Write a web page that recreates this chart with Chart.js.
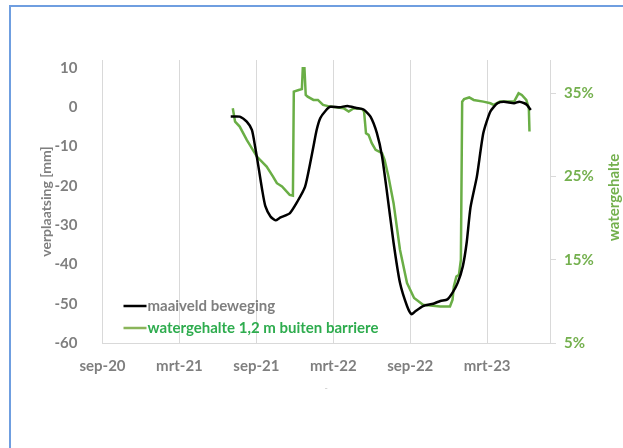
<!DOCTYPE html>
<html>
<head>
<meta charset="utf-8">
<script src="https://cdn.jsdelivr.net/npm/chart.js@4.4.1/dist/chart.umd.min.js"></script>
<style>
  html, body { margin: 0; padding: 0; background: #fff; }
  #wrap { position: relative; width: 623px; height: 448px; overflow: hidden; }
  #frame { position: absolute; left: 9px; top: 5px; width: 700px; height: 500px;
           border: 2px solid #6f9ee0; box-sizing: border-box; }
  canvas { position: absolute; left: 0; top: 0; }
</style>
</head>
<body>
<div id="wrap">
  <div id="frame"></div>
  <canvas id="c" width="623" height="448"></canvas>
</div>
<script>
// Time axis: months counted from 1 Sep 2020
const monthTicks  = [0, 6, 12, 18, 24, 30];
const monthLabels = ['sep-20', 'mrt-21', 'sep-21', 'mrt-22', 'sep-22', 'mrt-23'];
const mmTicks  = [-60, -50, -40, -30, -20, -10, 0, 10];
const pctTicks = [5, 15, 25, 35];

// Ground surface movement (mm)
const movementMonths = [10.0, 10.7, 11.25, 11.65, 11.9, 12.2, 12.45, 12.7, 13.1, 13.5,
  13.85, 14.6, 15.2, 15.8, 16.2, 16.45, 16.7, 16.98, 17.4, 17.76,
  18.5, 19.1, 19.8, 20.36, 20.9, 21.4, 21.8, 22.2, 22.7, 23.2,
  23.75, 24.1, 24.4, 25.0, 25.8, 26.35, 26.9, 27.3, 27.7, 28.1,
  28.4, 28.7, 29.2, 29.7, 30.25, 30.8, 31.3, 32.1, 32.5, 32.9,
  33.1, 33.4];
const movementMm = [-2.4, -2.4, -3.7, -5.8, -10.0, -15.9, -21.0, -25.2, -27.8, -28.8,
  -28.1, -27.0, -24.0, -20.2, -14.2, -10.0, -5.8, -2.8, -0.9, 0.1,
  0.0, 0.3, -0.2, -0.6, -2.4, -6.6, -12.5, -22.0, -34.5, -44.7,
  -50.6, -52.7, -51.9, -50.6, -50.0, -49.3, -48.9, -47.2, -44.7, -40.5,
  -34.5, -25.5, -17.6, -6.6, -1.1, 1.0, 1.4, 1.0, 1.4, 1.0,
  0.6, -0.7];

// Water content 1.2 m outside the barrier (%)
const waterMonths = [10.16, 10.34, 10.7, 11.25, 12.04, 12.8, 13.3, 13.6, 14.0, 14.6,
  14.85, 14.92, 15.3, 15.55, 15.62, 15.75, 15.85, 16.0, 16.45, 16.8,
  17.2, 17.75, 18.8, 19.2, 19.6, 20.25, 20.4, 20.55, 20.75, 21.0,
  21.3, 21.8, 22.0, 22.3, 22.7, 23.2, 23.75, 24.3, 25.0, 26.35,
  27.1, 27.3, 27.4, 27.6, 27.8, 27.95, 28.05, 28.2, 28.6, 28.95,
  29.7, 30.25, 30.5, 31.0, 32.1, 32.45, 32.7, 33.05, 33.25, 33.3];
const waterPct = [33.2, 31.6, 31.0, 29.4, 27.4, 26.2, 25.0, 24.2, 23.8, 22.8,
  22.7, 35.2, 35.4, 35.5, 38.0, 38.0, 34.8, 34.6, 34.2, 34.2,
  33.6, 33.4, 33.2, 32.8, 33.2, 33.1, 32.8, 30.2, 30.0, 29.0,
  28.2, 27.8, 27.0, 25.0, 21.8, 16.2, 12.2, 10.4, 9.6, 9.4,
  9.4, 10.2, 11.8, 13.0, 13.2, 15.0, 34.0, 34.3, 34.5, 34.2,
  34.0, 33.8, 33.6, 34.0, 34.0, 35.0, 34.8, 34.2, 33.2, 30.4];

const FONT = "Lato, 'Open Sans', sans-serif";
const GREY = '#7f7f7f';
const AXIS_GREEN = '#74b04e';
const LINE_GREEN = '#6aae46';
const LEGEND_TEXT = [GREY, '#2eac4e'];
const LEGEND_LINE = ['#000000', '#8ab55a'];

const pairs = (xs, ys) => xs.map((x, i) => ({ x, y: ys[i] }));

// Legend drawn inside the plot, lower left
const insideLegend = {
  id: 'insideLegend',
  afterDatasetsDraw(chart) {
    const { ctx, chartArea } = chart;
    ctx.save();
    ctx.font = 'bold 15px ' + FONT;
    ctx.textBaseline = 'middle';
    ctx.textAlign = 'left';
    chart.data.datasets.forEach((ds, i) => {
      const y = chartArea.bottom - 37 + i * 22;
      const x0 = chartArea.left + 21;
      ctx.strokeStyle = LEGEND_LINE[i];
      ctx.lineWidth = 2.5;
      ctx.beginPath();
      ctx.moveTo(x0, y);
      ctx.lineTo(x0 + 23, y);
      ctx.stroke();
      ctx.fillStyle = LEGEND_TEXT[i];
      ctx.fillText(ds.label, x0 + 24, y);
    });
    ctx.restore();
  }
};

// Secondary axis title, reading bottom to top
const rightTitle = {
  id: 'rightTitle',
  afterDraw(chart) {
    const { ctx, chartArea } = chart;
    ctx.save();
    ctx.translate(614, (chartArea.top + chartArea.bottom) / 2 - 4);
    ctx.rotate(-Math.PI / 2);
    ctx.font = 'bold 15px ' + FONT;
    ctx.fillStyle = AXIS_GREEN;
    ctx.textAlign = 'center';
    ctx.textBaseline = 'middle';
    ctx.fillText('watergehalte', 0, 0);
    ctx.restore();
  }
};

new Chart(document.getElementById('c'), {
  type: 'line',
  data: {
    datasets: [
      {
        label: 'maaiveld beweging',
        data: pairs(movementMonths, movementMm),
        yAxisID: 'y',
        borderColor: '#000000',
        borderWidth: 2.5,
        pointRadius: 0,
        tension: 0.2
      },
      {
        label: 'watergehalte 1,2 m buiten barriere',
        data: pairs(waterMonths, waterPct),
        yAxisID: 'y2',
        borderColor: LINE_GREEN,
        borderWidth: 2.5,
        pointRadius: 0,
        tension: 0
      }
    ]
  },
  options: {
    responsive: false,
    animation: false,
    devicePixelRatio: 1,
    layout: { padding: { top: 60, left: 0, right: 0, bottom: 0 } },
    plugins: { legend: { display: false }, tooltip: { enabled: false } },
    scales: {
      x: {
        type: 'linear',
        position: 'bottom',
        min: 0,
        max: 34.9,
        afterBuildTicks: s => { s.ticks = monthTicks.map(v => ({ value: v })); },
        afterFit: s => { s.height = 105; },
        ticks: {
          autoSkip: false,
          maxRotation: 0,
          padding: 14,
          color: GREY,
          font: { family: FONT, size: 15, weight: 'bold' },
          callback: v => monthLabels[monthTicks.indexOf(v)]
        },
        grid: { color: '#d9d9d9', lineWidth: 1, drawTicks: false },
        border: { color: '#d9d9d9', width: 1 },
        title: {
          display: true,
          text: '-',
          color: '#c8c8c8',
          font: { family: FONT, size: 9 },
          padding: { top: 0, bottom: 55 }
        }
      },
      y: {
        position: 'left',
        min: -60,
        max: 12,
        afterBuildTicks: s => { s.ticks = mmTicks.map(v => ({ value: v })); },
        afterFit: s => { s.width = 102.5; },
        ticks: {
          padding: 17,
          color: GREY,
          font: { family: FONT, size: 15, weight: 'bold' }
        },
        grid: { display: false },
        border: { display: false },
        title: {
          display: true,
          text: 'verplaatsing [mm]',
          color: GREY,
          font: { family: FONT, size: 14, weight: 'bold' },
          padding: { top: 38, bottom: 0 }
        }
      },
      y2: {
        position: 'right',
        min: 5,
        max: 39,
        afterBuildTicks: s => { s.ticks = pctTicks.map(v => ({ value: v })); },
        afterFit: s => { s.width = 73; },
        ticks: {
          padding: 8,
          color: AXIS_GREEN,
          font: { family: FONT, size: 15, weight: 'bold' },
          callback: v => v + '%'
        },
        grid: { drawOnChartArea: false, drawTicks: true, tickLength: 6, color: '#d9d9d9' },
        border: { color: '#d9d9d9', width: 1 }
      }
    }
  },
  plugins: [insideLegend, rightTitle]
});
</script>
</body>
</html>
